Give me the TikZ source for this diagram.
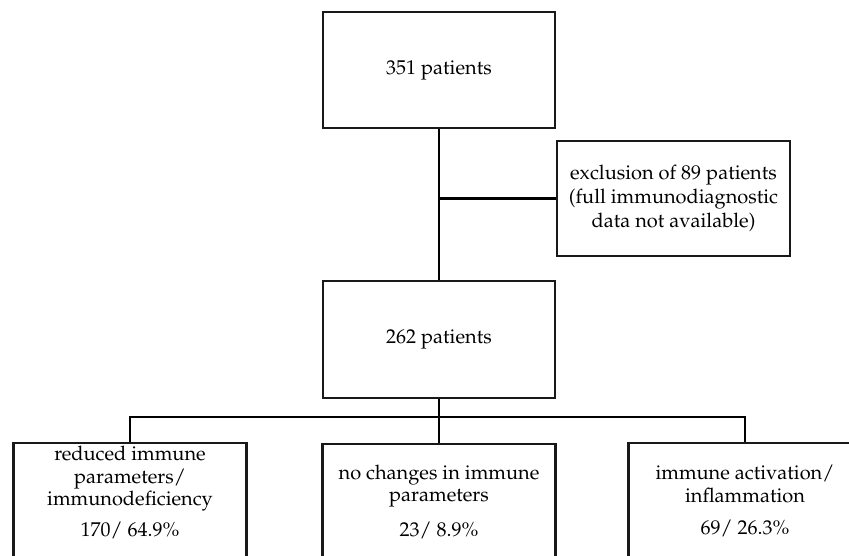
\documentclass[tikz,border=0pt]{standalone}
\usepackage[T1]{fontenc}
\usepackage{mathpazo}
\tikzset{
  box/.style={draw=black!90, line width=2.2bp, fill=white, minimum width=232bp, inner sep=0pt, align=center},
  lbl/.style={inner sep=0pt, align=center, font=\fontsize{20bp}{22.5bp}\selectfont},
  conn/.style={draw=black, line width=2.2bp}
}
\begin{document}
\begin{tikzpicture}[x=1bp,y=-1bp]
\useasboundingbox (0,0) rectangle (849,556);
\clip (0,0) rectangle (849,556);
\node[box, minimum height=116bp, font=\fontsize{20bp}{24bp}\selectfont] (top) at (439,70) {351 patients};
\node[box, minimum width=233bp, minimum height=115bp, font=\fontsize{20bp}{24bp}\selectfont] (excl) at (673.5,198.5) {exclusion of 89 patients\\(full immunodiagnostic\\data not available)};
\node[box, minimum height=117bp, font=\fontsize{20bp}{24bp}\selectfont] (mid) at (439,339.5) {262 patients};
\node[box, minimum width=233bp, minimum height=160bp, anchor=north] (b1) at (130,441.5) {};
\node[box, minimum width=233bp, minimum height=160bp, anchor=north] (b2) at (439,442.5) {};
\node[box, minimum width=233bp, minimum height=160bp, anchor=north] (b3) at (745,441.5) {};
\coordinate (hl) at (130,417);
\draw[conn] (top.south) -- (mid.north);
\draw[conn] (top.south |- excl.west) -- (excl.west);
\draw[conn] (mid.south) -- (b2.north);
\draw[conn] (b1.north) -- (b1.north |- hl) -- (b3.north |- hl) -- (b3.north);
\node[lbl] (b1t) at (130,479) {reduced immune\\parameters/\\immunodeficiency};
\node[lbl] (b1n) at (130,530) {170/ 64.9\%};
\node[lbl] (b2t) at (439,486) {no changes in immune\\parameters};
\node[lbl] (b2n) at (439,530) {23/ 8.9\%};
\node[lbl] (b3t) at (745,484) {immune activation/\\inflammation};
\node[lbl] (b3n) at (745,528) {69/ 26.3\%};
\end{tikzpicture}
\end{document}
